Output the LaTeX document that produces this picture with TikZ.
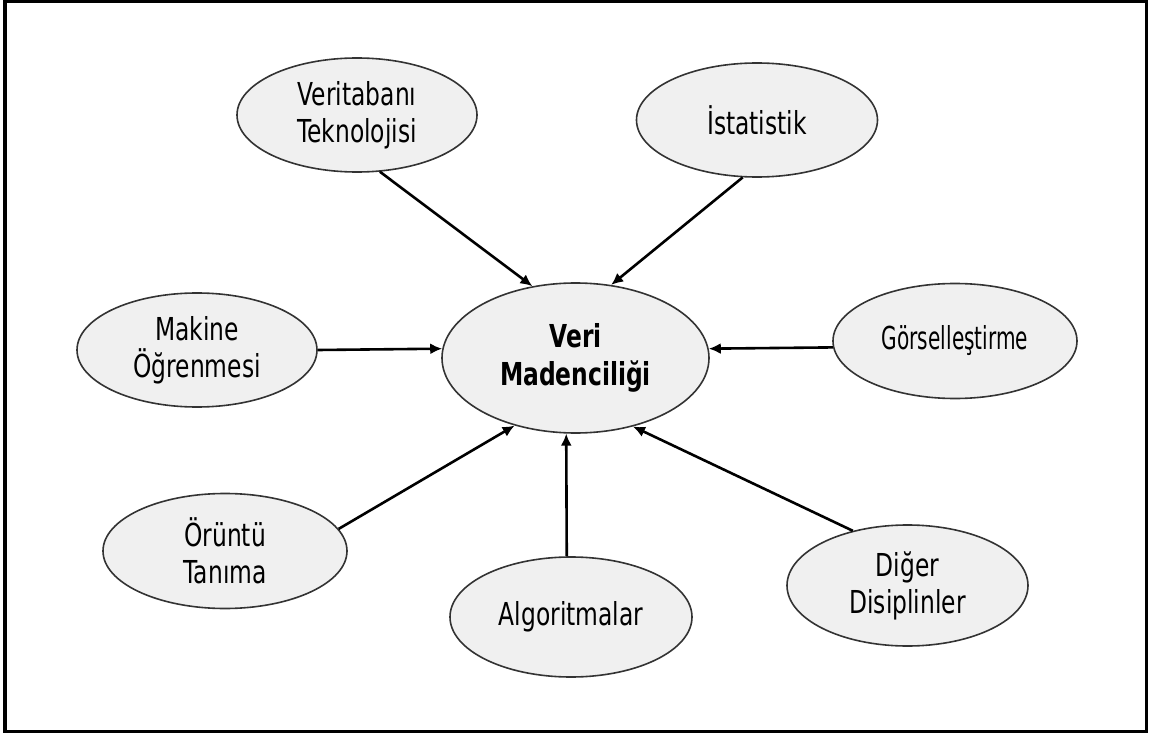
\documentclass[tikz,border=0pt]{standalone}
\usepackage{fontspec}
\setmainfont{DejaVu Sans}[FakeStretch=0.74]
\usetikzlibrary{shapes.geometric,arrows.meta}
\definecolor{bubblefill}{HTML}{F0F0F0}
\definecolor{bubbleline}{HTML}{333333}
\tikzset{
  field/.style={ellipse, draw=bubbleline, line width=0.8pt, fill=bubblefill,
    inner sep=0pt, align=center, text=black,
    font=\fontsize{15.8pt}{18.5pt}\selectfont},
  hub/.style={field, font=\fontsize{15.8pt}{19pt}\selectfont\bfseries},
  feed/.style={line width=1.3pt, draw=black, -{Latex[length=6pt,width=5.5pt]}},
  frame/.style={line width=1.6pt, draw=black},
}
\begin{document}
\begin{tikzpicture}[x=0.5pt, y=-0.5pt]
  \useasboundingbox (0,0) rectangle (1152,733);
  \draw[frame] (5,1.5) rectangle (1146.5,731.5);

  % central topic
  \node[hub, minimum width=133.5pt, minimum height=75pt] (vm) at (575.5,358) {Veri\\Madenciliği};

  % contributing fields
  \node[field, minimum width=120pt, minimum height=57pt] (vt) at (357,115) {Veritabanı\\Teknolojisi};
  \node[field, minimum width=120.5pt, minimum height=57pt] (ist) at (757,120) {İstatistik};
  \node[field, minimum width=120pt, minimum height=57pt] (mak) at (197,350) {Makine\\Öğrenmesi};
  \node[field, minimum width=122pt, minimum height=57.5pt] (gor) at (955,341) {\scalebox{0.86}[1]{Görselleştirme}};
  \node[field, minimum width=122pt, minimum height=57.5pt] (oru) at (225,551) {Örüntü\\Tanıma};
  \node[field, minimum width=121pt, minimum height=60pt] (alg) at (571,617) {Algoritmalar};
  \node[field, minimum width=120.5pt, minimum height=60.5pt] (dig) at (907.5,585.5) {Diğer\\Disiplinler};

  % arrows into the central topic
  \draw[feed] (vt.-68.4) -- (vm.121.5);
  \draw[feed] (ist.-104.3) -- (vm.64.3);
  \draw[feed] (mak.0.5) -- (vm.176);
  \draw[feed] (gor.183.3) -- (vm.4.3);
  \draw[feed] (oru.11.6) -- (vm.-132.6);
  \draw[feed] (alg.94.8) -- (vm.-97);
  \draw[feed] (dig.135.5) -- (vm.-50.9);
\end{tikzpicture}
\end{document}
